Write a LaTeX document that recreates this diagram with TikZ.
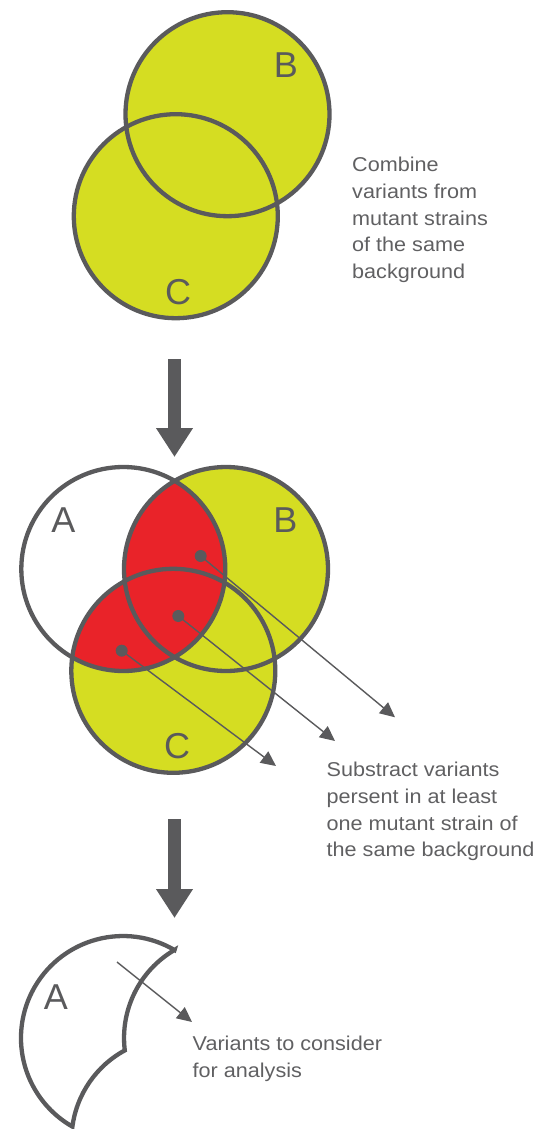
\documentclass[tikz,border=0pt]{standalone}
\usepackage{fontspec}
\setmainfont{Liberation Sans}
\newfontfamily\capfont[FakeStretch=1.08]{Liberation Sans}
\usetikzlibrary{arrows.meta}
\definecolor{vyellow}{HTML}{D5DD22}
\definecolor{vred}{HTML}{E92329}
\definecolor{vgray}{HTML}{5A5A5C}
\definecolor{tgray}{HTML}{606062}
\tikzset{
  ring/.style={draw=vgray, line width=4.3pt},
  letter/.style={text=vgray, inner sep=0pt, font=\fontsize{36}{36}\selectfont},
  caption/.style={text=tgray, inner sep=0pt, anchor=north west, align=left,
    font=\capfont\fontsize{20}{26.7}\selectfont},
  dotnode/.style={circle, fill=vgray, inner sep=0pt, minimum size=12pt},
  thinarrow/.style={draw=vgray, line width=1.4pt, -{Triangle[length=15pt,width=14pt]}},
  bigarrow/.style={draw=vgray, line width=13pt, -{Triangle[length=29pt,width=35pt]}}
}
\begin{document}
\begin{tikzpicture}[x=1pt,y=1pt]
\useasboundingbox (0,0) rectangle (546,-1129);

% ---------- top: B and C ----------
\coordinate (tB) at (227.5,-114.2);
\coordinate (tC) at (175.8,-216.2);
\fill[vyellow] (tB) circle[radius=102];
\fill[vyellow] (tC) circle[radius=102];
\draw[ring] (tB) circle[radius=102];
\draw[ring] (tC) circle[radius=102];
\node[letter] (tlB) at (286,-65) {B};
\node[letter] (tlC) at (178,-292.5) {C};
\node[caption] (t1) at (352,-157) {Combine\\variants from\\mutant strains\\of the same\\background};

% ---------- arrow 1 ----------
\coordinate (a1s) at (174.5,-359);
\coordinate (a1e) at (174.5,-457);
\draw[bigarrow] (a1s) -- (a1e);

% ---------- middle: A, B, C ----------
\coordinate (mA) at (123.3,-569);
\coordinate (mB) at (226,-569);
\coordinate (mC) at (173.3,-670.8);
\fill[vyellow] (mB) circle[radius=102];
\fill[vyellow] (mC) circle[radius=102];
\begin{scope}
  \clip (mA) circle[radius=102];
  \fill[vred] (mB) circle[radius=102];
  \fill[vred] (mC) circle[radius=102];
\end{scope}
\draw[ring] (mA) circle[radius=102];
\draw[ring] (mB) circle[radius=102];
\draw[ring] (mC) circle[radius=102];
\node[letter] (mlA) at (63.3,-519.7) {A};
\node[letter] (mlB) at (285.3,-520.5) {B};
\node[letter] (mlC) at (177,-746.5) {C};

\node[dotnode] (d1) at (200.7,-556) {};
\node[dotnode] (d2) at (178.3,-616) {};
\node[dotnode] (d3) at (121.7,-650.7) {};
\coordinate (e1) at (395,-717.3);
\coordinate (e2) at (335,-741);
\coordinate (e3) at (276,-766);
\draw[thinarrow] (d1.center) -- (e1);
\draw[thinarrow] (d2.center) -- (e2);
\draw[thinarrow] (d3.center) -- (e3);
\node[caption] (t2) at (326.5,-762) {Substract variants\\persent in at least\\one mutant strain of\\the same background};

% ---------- arrow 2 ----------
\coordinate (a2s) at (174.5,-819);
\coordinate (a2e) at (174.5,-918);
\draw[bigarrow] (a2s) -- (a2e);

% ---------- bottom: A only ----------
\coordinate (p1) at (174.5,-950);
\draw[ring, fill=white, line join=miter]
  (p1) arc[start angle=59.66, end angle=240.27, radius=102]
       arc[start angle=172.45, end angle=118.53, radius=102]
       arc[start angle=186.99, end angle=120.34, radius=102] -- cycle;
\node[letter] (blA) at (55.8,-997) {A};
\coordinate (b1s) at (117,-962);
\coordinate (b1e) at (192,-1022);
\draw[thinarrow] (b1s) -- (b1e);
\node[caption] (t3) at (192.5,-1036) {Variants to consider\\for analysis};
\end{tikzpicture}
\end{document}
